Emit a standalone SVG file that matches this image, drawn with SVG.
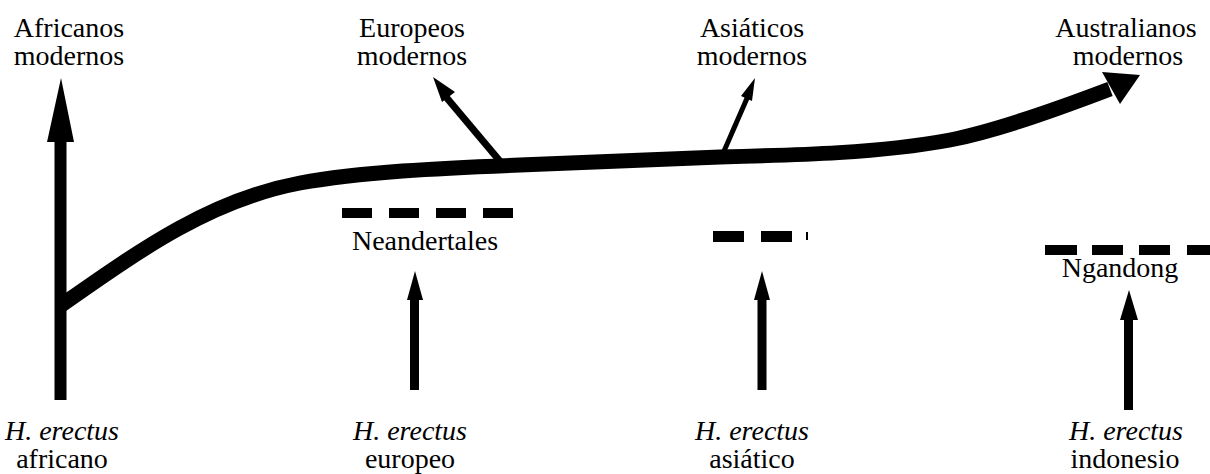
<svg xmlns="http://www.w3.org/2000/svg" width="1210" height="474" viewBox="0 0 1210 474">
<style>
text{font-family:'Liberation Serif',serif;font-size:28px;fill:#000;text-anchor:middle}
.it{font-style:italic}
.dash{fill:#000}
</style>
<rect width="1210" height="474" fill="#fff"/>
<g id="connectors">
<path d="M60,306 C140,250 210,200 300,183 C360,172 440,168 520,165 L720,157 C800,155 880,153 950,140 C1000,130 1060,108 1110,89" fill="none" stroke="#000" stroke-width="15"/>
<polygon points="1102,72 1140,75 1120,104"/>
<line x1="60.5" y1="400" x2="60.5" y2="138" stroke="#000" stroke-width="12"/>
<polygon points="47,142 61,78 74,142"/>
<line x1="504" y1="166" x2="446" y2="97" stroke="#000" stroke-width="7"/>
<polygon points="433,77 455,92 442,102"/>
<line x1="721" y1="158" x2="748" y2="96" stroke="#000" stroke-width="5"/>
<polygon points="755,78 752,101 741,96"/>
<line x1="414.5" y1="390" x2="414.5" y2="296" stroke="#000" stroke-width="9"/>
<polygon points="407,300 415,271 423,300"/>
<line x1="762" y1="390" x2="762" y2="296" stroke="#000" stroke-width="9"/>
<polygon points="754,300 762,271 770,300"/>
<line x1="1128.5" y1="410" x2="1128.5" y2="316" stroke="#000" stroke-width="9"/>
<polygon points="1120,320 1129,290 1138,320"/>
</g>
<g id="africanos-modernos"><text x="69" y="37" font-family="'Liberation Serif'">Africanos</text><text x="69" y="65" font-family="'Liberation Serif'">modernos</text></g>
<g id="europeos-modernos"><text x="412" y="37">Europeos</text><text x="412" y="65">modernos</text></g>
<g id="asiaticos-modernos"><text x="752" y="37">Asiáticos</text><text x="752" y="65">modernos</text></g>
<g id="australianos-modernos"><text x="1126" y="37">Australianos</text><text x="1128" y="65">modernos</text></g>
<g id="neandertales">
<rect class="dash" x="342" y="208" width="30" height="10"/>
<rect class="dash" x="389" y="208" width="30" height="10"/>
<rect class="dash" x="436" y="208" width="30" height="10"/>
<rect class="dash" x="483" y="208" width="30" height="10"/>
<text x="425" y="250">Neandertales</text>
</g>
<g id="asiatico-fosil">
<rect class="dash" x="713" y="231" width="31" height="11"/>
<rect class="dash" x="761" y="231" width="31" height="11"/>
<rect class="dash" x="806" y="232" width="2" height="8"/>
</g>
<g id="ngandong">
<rect class="dash" x="1045" y="245" width="32" height="10"/>
<rect class="dash" x="1092" y="245" width="31" height="10"/>
<rect class="dash" x="1139" y="245" width="31" height="10"/>
<rect class="dash" x="1187" y="245" width="23" height="10"/>
<text x="1120" y="277">Ngandong</text>
</g>
<g id="erectus-africano"><text class="it" x="62" y="440">H. erectus</text><text x="62" y="468">africano</text></g>
<g id="erectus-europeo"><text class="it" x="410" y="440">H. erectus</text><text x="410" y="468">europeo</text></g>
<g id="erectus-asiatico"><text class="it" x="752" y="440">H. erectus</text><text x="752" y="468">asiático</text></g>
<g id="erectus-indonesio"><text class="it" x="1126" y="440">H. erectus</text><text x="1125" y="468">indonesio</text></g>
</svg>
